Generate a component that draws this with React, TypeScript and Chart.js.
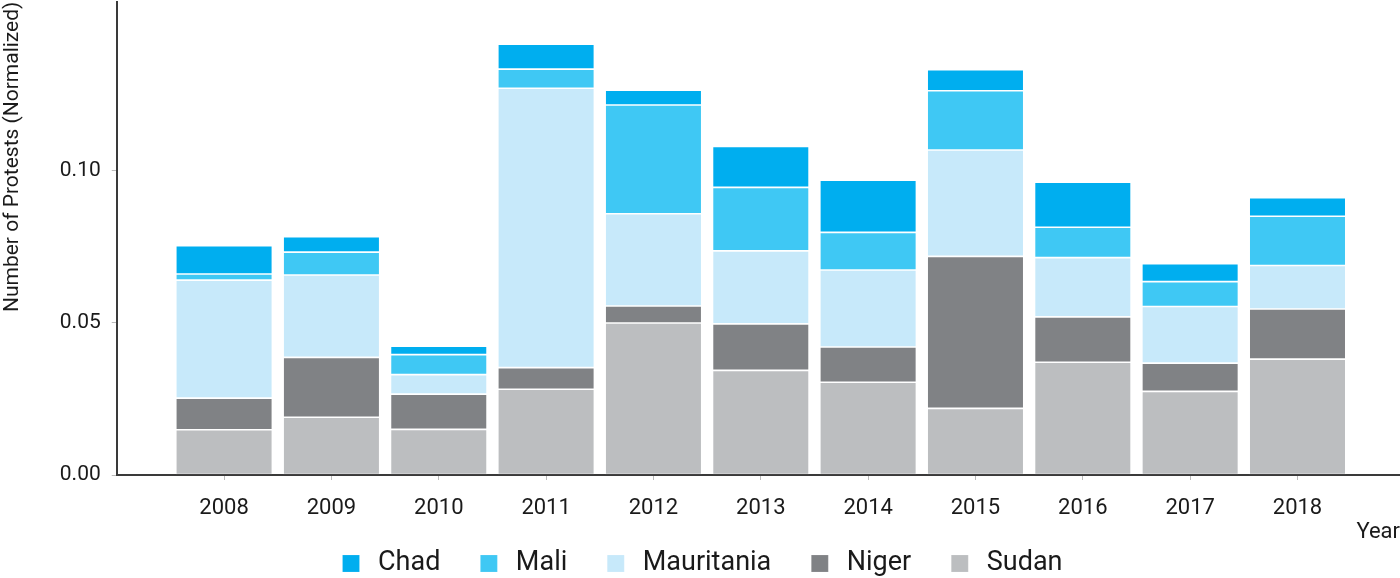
import React, { useEffect, useRef } from "react";
import { Chart, registerables } from "chart.js";

Chart.register(...registerables);

// Categories (years)
const years = [2008, 2009, 2010, 2011, 2012, 2013, 2014, 2015, 2016, 2017, 2018];

// Series values (normalized number of protests)
const sudan = [0.0149, 0.019, 0.015, 0.0282, 0.05, 0.0344, 0.0305, 0.0219, 0.0371, 0.0275, 0.0381];
const niger = [0.0104, 0.0197, 0.0116, 0.0071, 0.0056, 0.0153, 0.0116, 0.05, 0.0149, 0.0093, 0.0165];
const mauritania = [0.0388, 0.0271, 0.0064, 0.0919, 0.0303, 0.024, 0.0253, 0.035, 0.0195, 0.0186, 0.0143];
const mali = [0.002, 0.0075, 0.0066, 0.0063, 0.0358, 0.0209, 0.0124, 0.0195, 0.01, 0.0082, 0.0162];
const chad = [0.0093, 0.0051, 0.0028, 0.0082, 0.0049, 0.0135, 0.0172, 0.0069, 0.0148, 0.0059, 0.0061];

// Tick values
const yTickValues = [0, 0.05, 0.1];
const xTickValues = years;

const seriesNames = ["Sudan", "Niger", "Mauritania", "Mali", "Chad"];
const seriesData = [sudan, niger, mauritania, mali, chad];
const seriesColors = ["#BCBEC0", "#808285", "#C7E9FA", "#3FC8F4", "#00AEEF"];

const FONT = "Roboto";
const TEXT = "#1a1a1a";

export default function App() {
  const ref = useRef<HTMLCanvasElement>(null);

  useEffect(() => {
    document.body.style.margin = "0";
    document.body.style.overflow = "hidden";
    const datasets = seriesNames.map((name, s) => ({
      label: name,
      data: years.map((yr, i) => ({ x: yr, y: seriesData[s][i] })),
      backgroundColor: seriesColors[s],
      borderColor: "rgba(255,255,255,0.18)",
      borderWidth: 0.8,
      borderSkipped: false as const,
      barPercentage: 0.9,
      categoryPercentage: 1.0,
    }));

    const chart = new Chart(ref.current!, {
      type: "bar",
      data: { datasets },
      options: {
        animation: false,
        responsive: true,
        maintainAspectRatio: false,
        layout: { padding: 0 },
        plugins: {
          tooltip: { enabled: false },
          legend: {
            position: "bottom",
            reverse: true,
            labels: {
              usePointStyle: true,
              pointStyle: "rect",
              boxWidth: 27,
              boxHeight: 17,
              padding: 35,
              color: TEXT,
              font: { family: FONT, size: 27 },
            },
          },
        },
        scales: {
          x: {
            type: "linear",
            stacked: true,
            offset: false,
            min: 2007,
            max: 2018.955,
            grid: {
              offset: false,
              drawOnChartArea: false,
              drawTicks: true,
              tickLength: 5,
              tickColor: "#bbbbbb",
            },
            border: { display: true, color: "#3a3a3a", width: 2 },
            afterBuildTicks: (axis: any) => {
              axis.ticks = xTickValues.map((v) => ({ value: v }));
            },
            ticks: {
              padding: 14.8,
              color: TEXT,
              font: { family: FONT, size: 22 },
              callback: (v: any) => String(v),
              maxRotation: 0,
            },
            title: {
              display: true,
              text: "Year",
              align: "end",
              color: TEXT,
              font: { family: FONT, size: 22 },
              padding: { top: -17.2, bottom: -30.2 },
            },
          },
          y: {
            type: "linear",
            stacked: true,
            min: 0,
            max: 0.1557,
            grid: {
              drawOnChartArea: false,
              drawTicks: true,
              tickLength: 5,
              tickColor: "#bbbbbb",
            },
            border: { display: true, color: "#3a3a3a", width: 2 },
            afterBuildTicks: (axis: any) => {
              axis.ticks = yTickValues.map((v) => ({ value: v }));
            },
            ticks: {
              padding: 11,
              color: TEXT,
              font: { family: FONT, size: 21 },
              callback: (v: any) => Number(v).toFixed(2),
            },
            title: {
              display: true,
              text: "Number of Protests (Normalized)",
              align: "end",
              color: TEXT,
              font: { family: FONT, size: 21 },
              padding: { top: 0, bottom: 23.6 },
            },
          },
        },
      },
    } as any);
    return () => chart.destroy();
  }, []);

  return (
    <div style={{ position: "fixed", left: 0, top: -22, width: 1400, height: 609 }}>
      <canvas ref={ref} />
    </div>
  );
}
